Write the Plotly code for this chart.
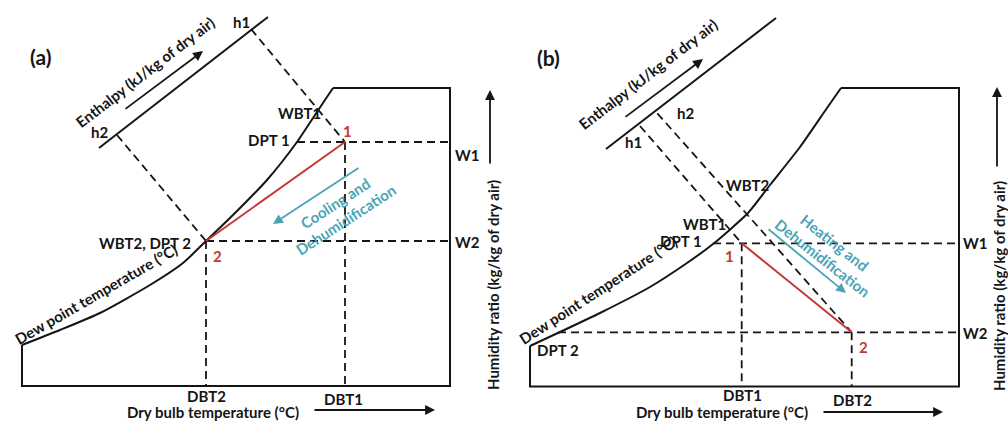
import plotly.graph_objects as go

W_PX, H_PX = 1008, 421
BLACK = "#151515"
RED = "#c4383a"
TEAL = "#4ba4b6"
FONT = "Lato"
DASH = "8px,5px"

# ---------------- panel (a): cooling and dehumidification ----------------
a_box_x = [22, 22, 450, 450, 333]
a_box_y = [345, 386, 386, 88, 88]
a_sat_x = [22, 60, 100, 150, 183, 206, 233, 267, 297, 315, 333]
a_sat_y = [345, 330, 313, 285, 263, 241, 215, 180, 142, 115, 88]
a_dbt = [345, 206]          # state 1, state 2 (dry bulb)
a_w = [142, 241]            # state 1, state 2 (humidity ratio)
a_dpt_x = [297, 206]        # dew point of state 1, state 2 on the saturation curve
a_enth_x = [99, 268]
a_enth_y = [148, 17]
a_h_x = [251, 117]          # h1, h2 on the enthalpy scale
a_h_y = [29, 135]

# ---------------- panel (b): heating and dehumidification ----------------
b_box_x = [530, 530, 959, 959, 841]
b_box_y = [346, 386.5, 386.5, 88, 88]
b_sat_x = [530, 560, 600, 650, 687, 713, 748, 770, 800, 827, 841]
b_sat_y = [346, 332, 313, 287, 263, 244, 213, 185, 147, 108, 88]
b_dbt = [741.7, 851.7]
b_w = [243.3, 332.3]
b_dpt_x = [713, 558]
b_enth_x = [606, 776]
b_enth_y = [149, 18]
b_h_x = [640, 657.3]
b_h_y = [126, 113.3]

fig = go.Figure()


def line(xs, ys, color=BLACK, width=1.8, dash="solid", shape="linear"):
    style = dict(color=color, width=width, dash=dash, shape=shape)
    if shape == "spline":
        style["smoothing"] = 0.6
    fig.add_trace(go.Scatter(x=xs, y=ys, mode="lines", hoverinfo="skip", line=style))


def panel(box_x, box_y, sat_x, sat_y, dbt, w, dpt_x, enth_x, enth_y, h_x, h_y, right_x, bottom_y):
    line(box_x, box_y, width=2)
    line(sat_x, sat_y, width=2, shape="spline")
    line(enth_x, enth_y, width=2)
    for k in range(2):
        # constant humidity ratio, constant dry bulb and constant enthalpy guides
        line([dpt_x[k], right_x], [w[k], w[k]], dash=DASH)
        line([dbt[k], dbt[k]], [w[k], bottom_y], dash=DASH)
        line([h_x[k], dbt[k]], [h_y[k], w[k]], dash=DASH)
    # process line between the two states
    line(dbt, w, color=RED, width=2)


panel(a_box_x, a_box_y, a_sat_x, a_sat_y, a_dbt, a_w, a_dpt_x,
      a_enth_x, a_enth_y, a_h_x, a_h_y, a_box_x[2], a_box_y[1])
panel(b_box_x, b_box_y, b_sat_x, b_sat_y, b_dbt, b_w, b_dpt_x,
      b_enth_x, b_enth_y, b_h_x, b_h_y, b_box_x[2], b_box_y[1])

# arrows: (tail_x, tail_y, head_x, head_y, color)
arrows = [
    (124, 110, 203, 51, BLACK),
    (313, 410, 435, 410, BLACK),
    (490, 165, 490, 90, BLACK),
    (360, 167, 273, 224, TEAL),
    (624, 118, 703, 59, BLACK),
    (822, 412, 943, 412, BLACK),
    (997, 168, 997, 87, BLACK),
    (767, 228, 846, 293, TEAL),
]
for tx, ty, hx, hy, col in arrows:
    fig.add_annotation(x=hx, y=hy, ax=tx, ay=ty, xref="x", yref="y", axref="x", ayref="y",
                       text="", showarrow=True, arrowhead=2, arrowsize=1.1,
                       arrowwidth=1.8, arrowcolor=col, standoff=0, startstandoff=0)

# text labels: (text, x, y, angle, color, size)
labels = [
    ("(a)", 40, 56, 0, BLACK, 21),
    ("Enthalpy (kJ/kg of dry air)", 145, 72, -37.6, BLACK, 15),
    ("h1", 241, 22, 0, BLACK, 15),
    ("h2", 99, 132, 0, BLACK, 15),
    ("WBT1", 299, 113, 0, BLACK, 15),
    ("DPT 1", 269, 140, 0, BLACK, 15),
    ("1", 347, 131, 0, RED, 15),
    ("2", 217, 256, 0, RED, 15),
    ("WBT2, DPT 2", 145, 243, 0, BLACK, 15),
    ("W1", 467, 155, 0, BLACK, 15),
    ("W2", 467, 242, 0, BLACK, 15),
    ("DBT2", 206, 396, 0, BLACK, 15),
    ("DBT1", 343, 399, 0, BLACK, 15),
    ("Dry bulb temperature (°C)", 213, 412, 0, BLACK, 15),
    ("Humidity ratio (kg/kg of dry air)", 493, 285, -90, BLACK, 15),
    ("Dew point temperature (°C)", 96, 294, -30, BLACK, 15),
    ("Cooling and<br>Dehumidification", 340, 212, -33, TEAL, 15),
    ("(b)", 548, 57, 0, BLACK, 21),
    ("Enthalpy (kJ/kg of dry air)", 648, 74, -37.6, BLACK, 15),
    ("h2", 685, 113, 0, BLACK, 15),
    ("h1", 633, 142, 0, BLACK, 15),
    ("WBT2", 748, 185, 0, BLACK, 15),
    ("WBT1", 704, 224, 0, BLACK, 15),
    ("DPT 1", 681, 241, 0, BLACK, 15),
    ("1", 729, 256, 0, RED, 15),
    ("2", 863, 347, 0, RED, 15),
    ("W1", 975, 243, 0, BLACK, 15),
    ("W2", 975, 333, 0, BLACK, 15),
    ("DPT 2", 558, 350, 0, BLACK, 15),
    ("DBT1", 742, 395, 0, BLACK, 15),
    ("DBT2", 852, 400, 0, BLACK, 15),
    ("Dry bulb temperature (°C)", 722, 412, 0, BLACK, 15),
    ("Humidity ratio (kg/kg of dry air)", 999, 286, -90, BLACK, 15),
    ("Dew point temperature (°C)", 598, 290, -33, BLACK, 15),
    ("Heating and<br>Dehumidification", 828, 250, 38, TEAL, 15),
]
for txt, x, y, ang, col, size in labels:
    fig.add_annotation(x=x, y=y, xref="x", yref="y", text="<b>" + txt + "</b>",
                       showarrow=False, textangle=ang, xanchor="center", yanchor="middle",
                       font=dict(family=FONT, size=size, color=col))

fig.update_layout(
    width=W_PX, height=H_PX, margin=dict(l=0, r=0, t=0, b=0),
    paper_bgcolor="white", plot_bgcolor="white", showlegend=False,
    xaxis=dict(range=[0, W_PX], visible=False, fixedrange=True),
    yaxis=dict(range=[H_PX, 0], visible=False, fixedrange=True),
)
fig.write_html("out.html")
